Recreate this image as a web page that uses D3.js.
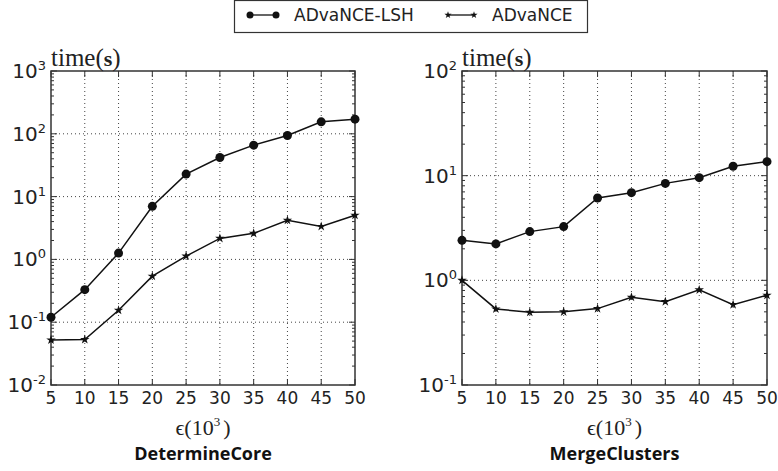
<!DOCTYPE html>
<html>
<head>
<meta charset="utf-8">
<script src="https://cdn.jsdelivr.net/npm/d3@7"></script>
<style>
  body { margin: 0; background: #fff; }
  svg { display: block; }
</style>
</head>
<body>
<div id="chart"></div>
<script>
"use strict";

// x values (epsilon, in thousands)
var epsilon = [5, 10, 15, 20, 25, 30, 35, 40, 45, 50];
var xTicks = [5, 10, 15, 20, 25, 30, 35, 40, 45, 50];

// DetermineCore timings (s)
var coreLSH = [0.12, 0.33, 1.26, 7.0, 22.8, 42, 66, 94, 155, 171];
var coreBase = [0.052, 0.053, 0.155, 0.54, 1.13, 2.16, 2.6, 4.2, 3.35, 5.05];

// MergeClusters timings (s)
var mergeLSH = [2.41, 2.23, 2.92, 3.26, 6.12, 6.88, 8.44, 9.57, 12.3, 13.6];
var mergeBase = [1.0, 0.533, 0.495, 0.5, 0.537, 0.69, 0.626, 0.81, 0.586, 0.72];

var seriesNames = ["ADvaNCE-LSH", "ADvaNCE"];
var panelTitles = ["DetermineCore", "MergeClusters"];

var W = 778, H = 471;
var svg = d3.select("#chart").append("svg")
  .attr("width", W).attr("height", H);

var starSym = d3.symbol().type(d3.symbolStar).size(28);

var drawPanel = function(opts) {
  var x = d3.scaleLinear().domain([5, 50]).range([opts.x0, opts.x1]);
  var y = d3.scaleLog().domain(opts.yDomain).range([opts.y1, opts.y0]);
  var g = svg.append("g");

  var lo = Math.log10(opts.yDomain[0]), hi = Math.log10(opts.yDomain[1]);
  var majors = d3.range(lo, hi + 1).map(function(e) { return Math.pow(10, e); });
  var minors = [];
  d3.range(lo, hi).forEach(function(e) {
    for (var k = 2; k <= 9; k++) minors.push(k * Math.pow(10, e));
  });

  // grid
  g.selectAll(".vg").data(xTicks.slice(1, -1)).enter().append("line")
    .attr("x1", function(d) { return x(d); }).attr("x2", function(d) { return x(d); })
    .attr("y1", opts.y0).attr("y2", opts.y1)
    .attr("stroke", "#444").attr("stroke-width", 1).attr("stroke-dasharray", "1,3");
  g.selectAll(".hg").data(majors.slice(1, -1)).enter().append("line")
    .attr("x1", opts.x0).attr("x2", opts.x1)
    .attr("y1", function(d) { return y(d); }).attr("y2", function(d) { return y(d); })
    .attr("stroke", "#444").attr("stroke-width", 1).attr("stroke-dasharray", "1,3");

  // ticks inward on all four sides
  var tk = g.append("g").attr("stroke", "#333").attr("stroke-width", 1);
  minors.forEach(function(v) {
    tk.append("line").attr("x1", opts.x0).attr("x2", opts.x0 + 3).attr("y1", y(v)).attr("y2", y(v));
    tk.append("line").attr("x1", opts.x1).attr("x2", opts.x1 - 3).attr("y1", y(v)).attr("y2", y(v));
  });
  majors.forEach(function(v) {
    tk.append("line").attr("x1", opts.x0).attr("x2", opts.x0 + 6).attr("y1", y(v)).attr("y2", y(v));
    tk.append("line").attr("x1", opts.x1).attr("x2", opts.x1 - 6).attr("y1", y(v)).attr("y2", y(v));
  });
  xTicks.forEach(function(v) {
    tk.append("line").attr("x1", x(v)).attr("x2", x(v)).attr("y1", opts.y1).attr("y2", opts.y1 - 6);
    tk.append("line").attr("x1", x(v)).attr("x2", x(v)).attr("y1", opts.y0).attr("y2", opts.y0 + 6);
  });

  // frame
  g.append("rect").attr("x", opts.x0).attr("y", opts.y0)
    .attr("width", opts.x1 - opts.x0).attr("height", opts.y1 - opts.y0)
    .attr("fill", "none").attr("stroke", "#333").attr("stroke-width", 1.5);

  // x tick labels
  g.selectAll(".xl").data(xTicks).enter().append("text")
    .attr("x", function(d) { return x(d); }).attr("y", opts.y1 + 19)
    .attr("text-anchor", "middle")
    .style("font-family", "DejaVu Sans").style("font-size", "17px").attr("fill", "#222")
    .text(function(d) { return d; });

  // y tick labels as 10^n
  majors.forEach(function(v) {
    var e = Math.round(Math.log10(v));
    var t = g.append("text").attr("x", opts.x0 - 5).attr("y", y(v) + 7)
      .attr("text-anchor", "end")
      .style("font-family", "DejaVu Sans").style("font-size", "20px").attr("fill", "#222");
    t.append("tspan").text("10");
    t.append("tspan").attr("dy", -8).style("font-size", "13px").text(e);
  });

  // axis titles
  var yt = g.append("text").attr("x", opts.x0).attr("y", opts.y0 - 5)
    .style("font-family", "Liberation Serif").style("font-size", "25px").attr("fill", "#222");
  yt.append("tspan").text("time(");
  yt.append("tspan").style("font-weight", "bold").style("font-size", "22px").text("s");
  yt.append("tspan").text(")");
  var xl = g.append("text").attr("x", (opts.x0 + opts.x1) / 2).attr("y", opts.y1 + 50)
    .attr("text-anchor", "middle")
    .style("font-family", "Liberation Serif").style("font-size", "22px").attr("fill", "#222");
  xl.append("tspan").text("\u03f5(10");
  xl.append("tspan").attr("dy", -9).style("font-size", "13px").text("3");
  xl.append("tspan").attr("dy", 9).attr("dx", 3).text(")");
  g.append("text").attr("x", (opts.x0 + opts.x1) / 2).attr("y", opts.y1 + 75)
    .attr("text-anchor", "middle")
    .style("font-family", "Open Sans").style("font-weight", "bold").style("font-size", "18px")
    .attr("fill", "#111")
    .text(opts.title);

  // lines
  var line = d3.line()
    .x(function(d, i) { return x(epsilon[i]); })
    .y(function(d) { return y(d); });
  g.append("path").datum(opts.lsh).attr("d", line)
    .attr("fill", "none").attr("stroke", "#111").attr("stroke-width", 1.5);
  g.append("path").datum(opts.base).attr("d", line)
    .attr("fill", "none").attr("stroke", "#111").attr("stroke-width", 1.5);

  g.selectAll(".c").data(opts.lsh).enter().append("circle")
    .attr("cx", function(d, i) { return x(epsilon[i]); })
    .attr("cy", function(d) { return y(d); })
    .attr("r", 4.5).attr("fill", "#111");
  g.selectAll(".s").data(opts.base).enter().append("path")
    .attr("d", starSym)
    .attr("transform", function(d, i) { return "translate(" + x(epsilon[i]) + "," + y(d) + ")"; })
    .attr("fill", "#111");
};

drawPanel({ x0: 51, x1: 355, y0: 71, y1: 385, yDomain: [0.01, 1000],
            lsh: coreLSH, base: coreBase, title: panelTitles[0] });
drawPanel({ x0: 462, x1: 767, y0: 71, y1: 385, yDomain: [0.1, 100],
            lsh: mergeLSH, base: mergeBase, title: panelTitles[1] });

// legend
var lg = svg.append("g");
lg.append("rect").attr("x", 234.5).attr("y", 0.5).attr("width", 353).attr("height", 32)
  .attr("fill", "#fff").attr("stroke", "#333").attr("stroke-width", 1.2);
var items = [
  { name: seriesNames[0], x: 250, tx: 294 },
  { name: seriesNames[1], x: 448, tx: 492 }
];
items.forEach(function(it, i) {
  lg.append("line").attr("x1", it.x).attr("x2", it.x + 26).attr("y1", 15).attr("y2", 15)
    .attr("stroke", "#111").attr("stroke-width", 1.3);
  [it.x, it.x + 26].forEach(function(px) {
    if (i === 0) {
      lg.append("circle").attr("cx", px).attr("cy", 15).attr("r", 3.5).attr("fill", "#111");
    } else {
      lg.append("path").attr("d", d3.symbol().type(d3.symbolStar).size(16)())
        .attr("transform", "translate(" + px + ",15)").attr("fill", "#111");
    }
  });
  lg.append("text").attr("x", it.tx).attr("y", 21)
    .style("font-family", "DejaVu Sans").style("font-size", "17px").attr("fill", "#222")
    .text(it.name);
});
</script>
</body>
</html>
